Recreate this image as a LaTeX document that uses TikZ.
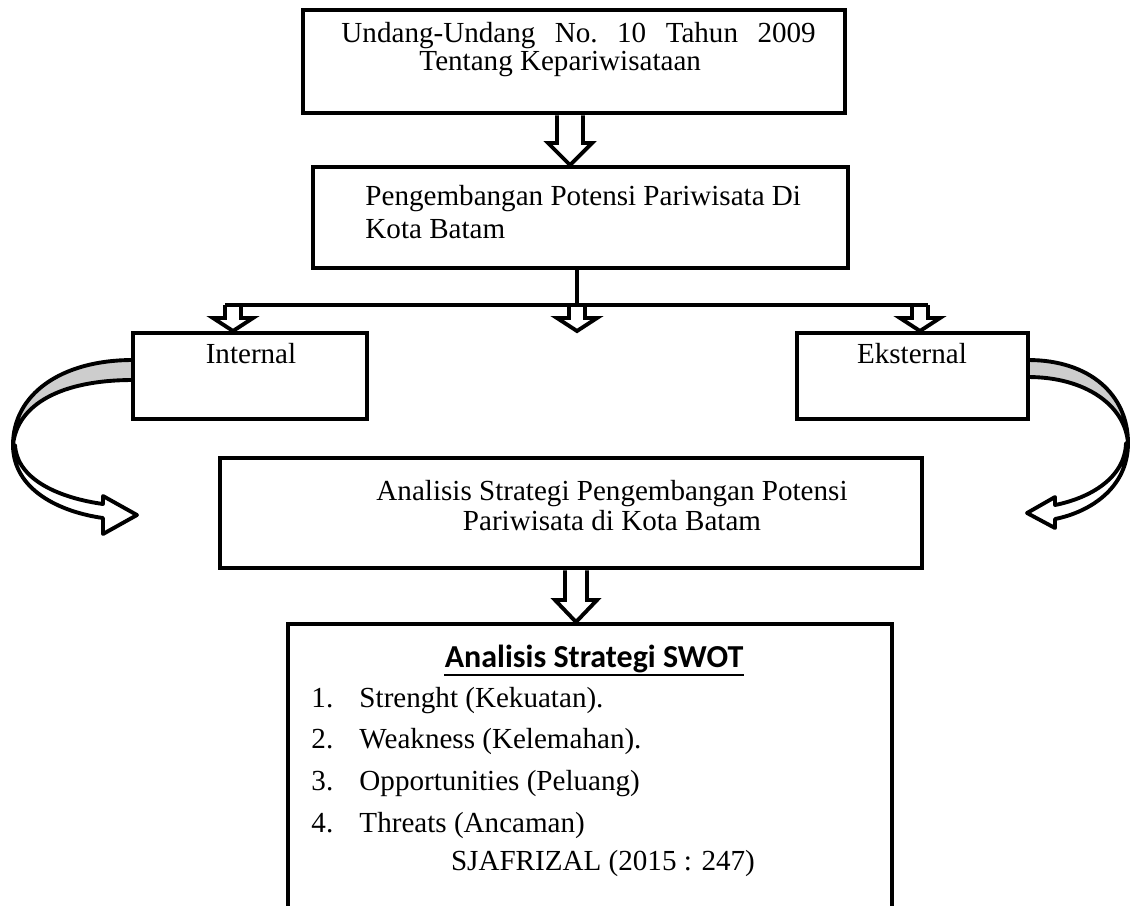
\documentclass[tikz,border=0pt]{standalone}
\usepackage{fontspec}
\setmainfont{Liberation Serif}
\newfontfamily\headfont{Carlito}
\usepackage{tikz}
\usetikzlibrary{calc,fit}
\definecolor{band_gray}{RGB}{205,205,205}

% hollow block arrow pointing down: top point, tip, stem half width, head half width, head length
\newcommand{\blockdown}[5]{%
  \draw[hollow] let \p1=#1, \p2=#2 in
    ($(\x2,\y1)+(-#3,0)$) -- ($(\x2,\y2)+(-#3,-#5)$) -- ($(\x2,\y2)+(-#4,-#5)$) -- (\x2,\y2)
    -- ($(\x2,\y2)+(#4,-#5)$) -- ($(\x2,\y2)+(#3,-#5)$) -- ($(\x2,\y1)+(#3,0)$);}

\begin{document}
\begin{tikzpicture}[x=0.0145cm,y=-0.0145cm]
    \tikzstyle{box}=[draw, line width=2pt, inner sep=0pt, rectangle]
    \tikzstyle{txt}=[inner sep=0pt, anchor=base west, font=\fontsize{12pt}{14pt}\selectfont]
    \tikzstyle{hollow}=[line width=1.6pt, fill=white, line join=miter]
    \tikzstyle{conn}=[line width=1.6pt]
    \tikzstyle{curl}=[line width=1.6pt, line join=round]

    \useasboundingbox (0,0) rectangle (1132,905);
    \clip (0,0) rectangle (1132,905);

    % boxes
    \node[box, fit={(303,10) (845,113)}]   (uu)   {};
    \node[box, fit={(313,167) (848,268)}]  (pot)  {};
    \node[box, fit={(133,333) (367,419)}]  (int)  {};
    \node[box, fit={(797,333) (1028,419)}] (eks)  {};
    \node[box, fit={(220,458) (922,568)}]  (ana)  {};
    \node[box, fit={(288,624) (892,960)}]  (swot) {};

    % texts
    \node[txt] (uu1) at (341,42) {\makebox[195.6pt][s]{Undang-Undang No.\ 10 Tahun 2009}};
    \node[txt] (uu2) at (419,70) {Tentang Kepariwisataan};
    \node[txt] (pot1) at (365,205) {Pengembangan Potensi Pariwisata Di};
    \node[txt] (pot2) at (365,238) {Kota Batam};
    \node[txt, anchor=base] (intlabel) at (251,363) {Internal};
    \node[txt, anchor=base] (ekslabel) at (912,363) {Eksternal};
    \node[txt, anchor=base] (ana1) at (612,500) {Analisis Strategi Pengembangan Potensi};
    \node[txt, anchor=base] (ana2) at (612,530) {Pariwisata di Kota Batam};
    \node[anchor=base, inner sep=0pt, font=\headfont\bfseries\fontsize{13.2pt}{16pt}\selectfont] (swothead) at (594,667) {Analisis Strategi SWOT};
    \draw[line width=1.2pt] ($(swothead.base west)+(0,8)$) -- ($(swothead.base east)+(0,8)$);
    \foreach \yy/\lbl [count=\n] in {707/{Strenght (Kekuatan).}, 748/{Weakness (Kelemahan).}, 790/{Opportunities (Peluang)}, 832/{Threats (Ancaman)}} {
      \node[txt] (num\n) at (311,\yy) {\n.};
      \node[txt] (item\n) at (359,\yy) {\lbl};
    }
    \node[txt, anchor=base] (src) at (603,870) {SJAFRIZAL (2015 : 247)};

    % block arrows
    \coordinate (t1) at (570,165);
    \coordinate (t3) at (576,622);
    \coordinate (split) at (577,305);
    \coordinate (bl) at (225,305);
    \coordinate (br) at (928,305);
    \coordinate (tin) at (233,331);
    \coordinate (tmid) at (577,331);
    \coordinate (teks) at (920,331);
    \blockdown{(uu.south)}{(t1)}{13}{22}{22}
    \blockdown{(ana.south)}{(t3)}{11}{21}{22}
    \blockdown{(tin |- split)}{(tin)}{8}{20}{13}
    \blockdown{(tmid |- split)}{(tmid)}{8}{20}{13}
    \blockdown{(teks |- split)}{(teks)}{8}{20}{13}
    \draw[conn] (split |- pot.south) -- (split);
    \draw[conn] (bl) -- (br);

    % curved arrow, internal side
    \draw[curl, fill=band_gray] (133,360) .. controls (60,360) and (13,395) .. (13,445)
      .. controls (17,405) and (60,380) .. (133,380) -- cycle;
    \draw[curl, fill=white] (13,445) .. controls (13,490) and (60,512) .. (103,518)
      -- (103,534) -- (137,515) -- (103,496) -- (103,504)
      .. controls (60,498) and (17,480) .. (15,445) -- cycle;

    % curved arrow, external side
    \draw[curl, fill=band_gray] (1028,360) .. controls (1090,360) and (1128,395) .. (1128,443)
      .. controls (1125,405) and (1085,377) .. (1028,377) -- cycle;
    \draw[curl, fill=white] (1128,443) .. controls (1128,488) and (1090,512) .. (1055,519)
      -- (1055,528) -- (1027,513) -- (1055,497) -- (1055,505)
      .. controls (1090,498) and (1125,478) .. (1126,443) -- cycle;
\end{tikzpicture}
\end{document}
